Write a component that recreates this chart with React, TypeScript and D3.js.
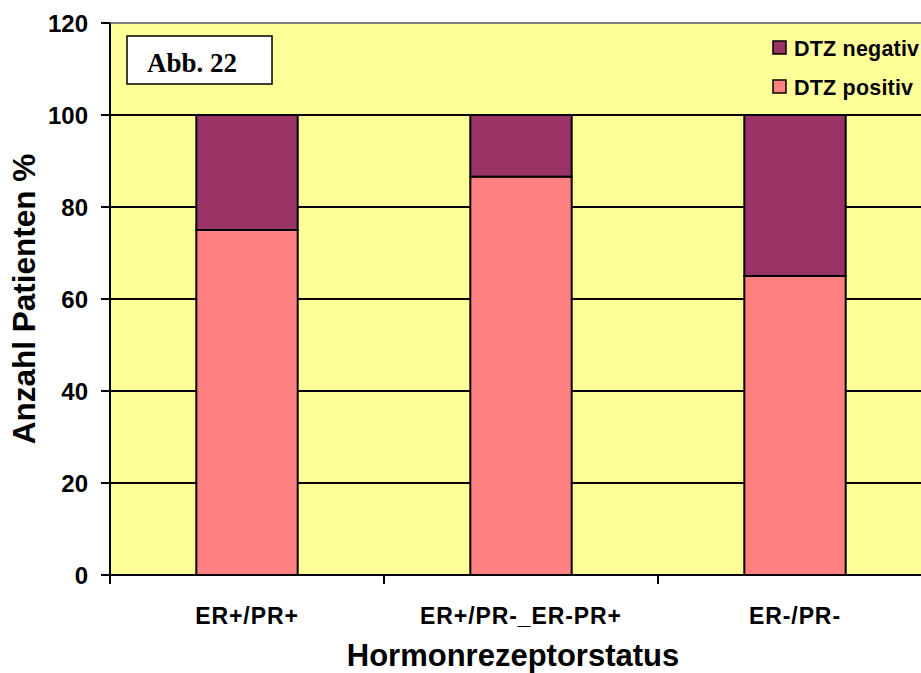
import React from "react";
import * as d3 from "d3";

const categories = ["ER+/PR+", "ER+/PR-_ER-PR+", "ER-/PR-"];
const dtzPositiv = [75, 86.6, 65];
const dtzNegativ = [25, 13.4, 35];
const yTicks = [0, 20, 40, 60, 80, 100, 120];
const seriesNames = ["DTZ negativ", "DTZ positiv"];
const seriesColors = ["#993366", "#FF8080"];

const W = 921, H = 673;
const left = 110, top = 23, bottom = 575, right = 932;
const font = "Arial, 'Liberation Sans', sans-serif";

export default function App() {
  const x = d3.scaleBand<string>().domain(categories).range([left, right]).paddingInner(0.63).paddingOuter(0.315);
  const xb = d3.scaleBand<string>().domain(categories).range([left, right]);
  const y = d3.scaleLinear().domain([0, 120]).range([bottom, top]);

  const stackData = categories.map((c, i) => ({ cat: c, pos: dtzPositiv[i], neg: dtzNegativ[i] }));
  const stack = d3.stack<any>().keys(["pos", "neg"])(stackData);

  return (
    <svg width={W} height={H} style={{ position: "absolute", left: 0, top: 0, background: "#fff" }}>
      <rect x={left} y={top} width={right - left} height={bottom - top} fill="#FFFF99" />
      <line x1={left} x2={right} y1={top} y2={top} stroke="#808080" strokeWidth={2} />
      {yTicks.filter(t => t > 0 && t < 120).map(t => (
        <line key={t} x1={left} x2={right} y1={y(t)} y2={y(t)} stroke="#000" strokeWidth={2} />
      ))}
      {stack.map((layer, li) =>
        layer.map((d, i) => (
          <rect key={li + "-" + i} x={x(categories[i])} width={x.bandwidth()}
            y={y(d[1])} height={y(d[0]) - y(d[1])}
            fill={li === 0 ? seriesColors[1] : seriesColors[0]} stroke="#000" strokeWidth={2} />
        ))
      )}
      {/* axes */}
      <line x1={left} x2={left} y1={top} y2={bottom} stroke="#000" strokeWidth={2} />
      <line x1={left} x2={right} y1={bottom} y2={bottom} stroke="#000" strokeWidth={2} />
      {yTicks.map(t => (
        <g key={t}>
          <line x1={left - 9} x2={left} y1={y(t)} y2={y(t)} stroke="#000" strokeWidth={2} />
          <text x={88} y={y(t)} dy="0.36em" textAnchor="end" fontFamily={font} fontWeight="bold" fontSize={24}>{t}</text>
        </g>
      ))}
      {categories.map((c, i) => (
        <g key={c}>
          <line x1={xb(c)!} x2={xb(c)!} y1={bottom} y2={bottom + 9} stroke="#000" strokeWidth={2} />
          <text x={x(c)! + x.bandwidth() / 2} y={624} textAnchor="middle" fontFamily={font} fontWeight="bold" fontSize={23} letterSpacing={0.9}>{c}</text>
        </g>
      ))}
      <text x={513} y={666} textAnchor="middle" fontFamily={font} fontWeight="bold" fontSize={31}>Hormonrezeptorstatus</text>
      <text transform={`translate(35,299) rotate(-90)`} textAnchor="middle" fontFamily={font} fontWeight="bold" fontSize={31.5}>Anzahl Patienten %</text>
      {/* Abb box */}
      <rect x={127} y={36} width={145} height={48} fill="#fff" stroke="#000" strokeWidth={1.5} />
      <text x={192} y={72} textAnchor="middle" fontFamily="'Liberation Serif', 'Times New Roman', serif" fontWeight="bold" fontSize={27}>Abb. 22</text>
      {/* legend */}
      {seriesNames.map((n, i) => (
        <g key={n}>
          <rect x={773} y={41 + i * 39} width={13} height={13} fill={seriesColors[i]} stroke="#000" strokeWidth={1.5} />
          <text x={794} y={48 + i * 39} dy="0.36em" fontFamily={font} fontWeight="bold" fontSize={21.5} letterSpacing={0.2}>{n}</text>
        </g>
      ))}
    </svg>
  );
}
